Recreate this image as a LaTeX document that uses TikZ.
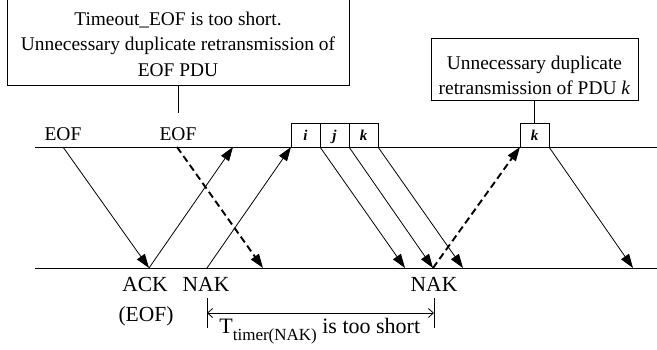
\documentclass[tikz,border=0pt]{standalone}
\usepackage{fontspec}
\setmainfont{Liberation Serif}
\usetikzlibrary{arrows.meta,positioning}

\newcommand{\fsz}[1]{\fontsize{#1}{#1}\selectfont}

\begin{document}
\begin{tikzpicture}[x=1pt,y=-1pt,line width=0.8pt,
  fr/.style={draw,minimum width=29pt,minimum height=24pt,inner sep=0pt,outer sep=0pt,
    text height=12pt,text depth=1pt},
  box/.style={draw,inner sep=0pt,outer sep=0pt},
  msg/.style={align=center,inner sep=0pt,font=\fontsize{19.4}{25.5}\selectfont},
  lbl/.style={anchor=base,inner sep=0pt},
  ar/.style={-{Triangle[length=14pt,width=9.5pt]}},
  dar/.style={ar,line width=1.9pt,dash pattern=on 7pt off 4pt},
  bar/.style={{Straight Barb[length=5pt,width=9pt]}-{Straight Barb[length=5pt,width=9pt]}}]
 \useasboundingbox (0,0) rectangle (657,349);
 % time lines
 \draw (35,147) coordinate (tl) -- (657,147) coordinate (tr);
 \draw (35,268) coordinate (bl) -- (657,268) coordinate (br);
 % notes
 \node[box,minimum width=342pt,minimum height=100pt,anchor=south] (note1) at (178,85) {};
 \node[msg] (txt1) at (178,44) {Timeout\_EOF is too short.\\Unnecessary duplicate retransmission of\\EOF PDU};
 \node[box,minimum width=207pt,minimum height=62pt] (note2) at (534.5,69) {};
 \node[msg] (txt2) at (534.5,75.5) {Unnecessary duplicate\\retransmission of PDU \textit{k}};
 % frames
 \node[fr,anchor=south west] (fi) at (291,147) {\fsz{15}\bfseries\itshape i};
 \node[fr,right=0pt of fi] (fj) {\fsz{15}\bfseries\itshape j};
 \node[fr,right=0pt of fj] (fk) {\fsz{15}\bfseries\itshape k};
 \node[fr,anchor=south west] (fk2) at (520,147) {\fsz{15}\bfseries\itshape k};
 % labels
 \node[lbl] (eof1) at (63,140.5) {\fsz{19.5}EOF};
 \node[lbl] (eof2) at (178,140.5) {\fsz{19.5}EOF};
 \node[lbl] (ack) at (145,291.7) {\fsz{21.5}ACK};
 \node[lbl] (ackeof) at (146,321.7) {\fsz{21.5}(EOF)};
 \node[lbl] (nak1) at (206,291.7) {\fsz{21.5}NAK};
 \node[lbl] (nak2) at (434,291.7) {\fsz{21.5}NAK};
 \coordinate (c1) at (178,113);
 \draw (note1.south) -- (c1);
 \draw (note2.south) -- (fk2.north);
 % points on the lines
 \coordinate (t1) at (63,147);
 \coordinate (t2) at (233,147);
 \coordinate (t3) at (177,147);
 \coordinate (b1) at (149,268);
 \coordinate (b2) at (263,268);
 \coordinate (b3) at (207,268);
 \coordinate (b4) at (405,268);
 \coordinate (b5) at (433,268);
 \coordinate (b6) at (463,268);
 \coordinate (b7) at (633,268);
 \draw[ar] (t1) -- (b1);
 \draw[ar] (b1) -- (t2);
 \draw[dar] (t3) -- (b2);
 \draw[ar] (b3) -- (fi.south west);
 \draw[ar] (fi.south east) -- (b4);
 \draw[ar] (fj.south east) -- (b5);
 \draw[ar] (fk.south east) -- (b6);
 \draw[dar] (b5) -- (fk2.south west);
 \draw[ar] (fk2.south east) -- (b7);
 % timer
 \coordinate (m1) at (207,313);
 \coordinate (m2) at (434,313);
 \draw ([yshift=15pt]m1) -- ([yshift=-15pt]m1);
 \draw ([yshift=15pt]m2) -- ([yshift=-15pt]m2);
 \draw[bar] (m1) -- (m2);
 \node[lbl,anchor=base west] (tmr) at (219,333)
   {\fsz{22}T\raisebox{-7pt}{\fsz{17}timer(NAK)} is too short};
\end{tikzpicture}
\end{document}
